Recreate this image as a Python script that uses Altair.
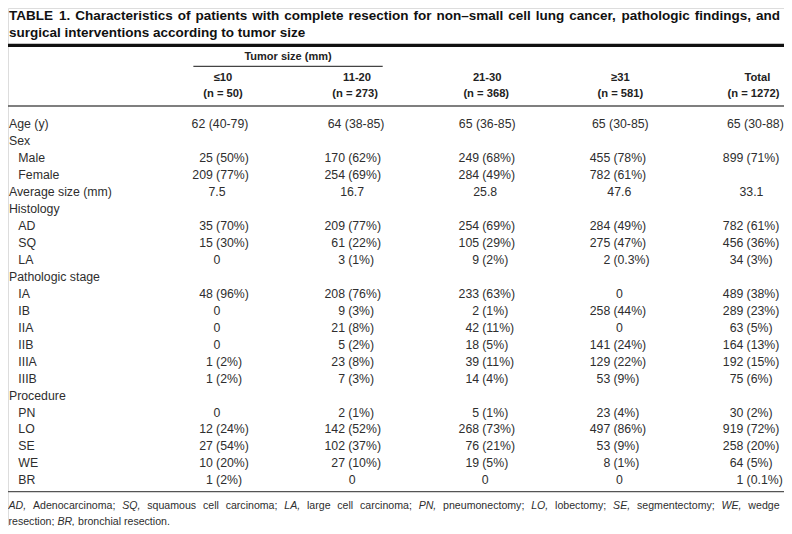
import altair as alt
import pandas as pd

# ---------------- data ----------------
title_words = ["TABLE", "1.", "Characteristics", "of", "patients", "with", "complete", "resection",
               "for", "non\u2013small", "cell", "lung", "cancer,", "pathologic", "findings,", "and"]
title_line2 = "surgical interventions according to tumor size"
group_header = "Tumor size (mm)"
col_headers = ["\u226410", "11-20", "21-30", "\u226531", "Total"]
col_ns = ["(n = 50)", "(n = 273)", "(n = 368)", "(n = 581)", "(n = 1272)"]

row_labels = ["Age (y)", "Sex", "Male", "Female", "Average size (mm)", "Histology",
              "AD", "SQ", "LA", "Pathologic stage", "IA", "IB", "IIA", "IIB", "IIIA",
              "IIIB", "Procedure", "PN", "LO", "SE", "WE", "BR"]
row_indent = [0, 0, 1, 1, 0, 0, 1, 1, 1, 0, 1, 1, 1, 1, 1, 1, 0, 1, 1, 1, 1, 1]

col_le10 = ["62 (40-79)", "", "25 (50%)", "209 (77%)", "7.5", "", "35 (70%)", "15 (30%)", "0", "",
            "48 (96%)", "0", "0", "0", "1 (2%)", "1 (2%)", "", "0", "12 (24%)", "27 (54%)", "10 (20%)", "1 (2%)"]
col_11_20 = ["64 (38-85)", "", "170 (62%)", "254 (69%)", "16.7", "", "209 (77%)", "61 (22%)", "3 (1%)", "",
             "208 (76%)", "9 (3%)", "21 (8%)", "5 (2%)", "23 (8%)", "7 (3%)", "", "2 (1%)", "142 (52%)", "102 (37%)", "27 (10%)", "0"]
col_21_30 = ["65 (36-85)", "", "249 (68%)", "284 (49%)", "25.8", "", "254 (69%)", "105 (29%)", "9 (2%)", "",
             "233 (63%)", "2 (1%)", "42 (11%)", "18 (5%)", "39 (11%)", "14 (4%)", "", "5 (1%)", "268 (73%)", "76 (21%)", "19 (5%)", "0"]
col_ge31 = ["65 (30-85)", "", "455 (78%)", "782 (61%)", "47.6", "", "284 (49%)", "275 (47%)", "2 (0.3%)", "",
            "0", "258 (44%)", "0", "141 (24%)", "129 (22%)", "53 (9%)", "", "23 (4%)", "497 (86%)", "53 (9%)", "8 (1%)", "0"]
col_total = ["65 (30-88)", "", "899 (71%)", "", "33.1", "", "782 (61%)", "456 (36%)", "34 (3%)", "",
             "489 (38%)", "289 (23%)", "63 (5%)", "164 (13%)", "192 (15%)", "75 (6%)", "", "30 (2%)", "919 (72%)", "258 (20%)", "64 (5%)", "1 (0.1%)"]

footer_words1 = [("AD,", 1), ("Adenocarcinoma;", 0), ("SQ,", 1), ("squamous", 0), ("cell", 0), ("carcinoma;", 0),
                 ("LA,", 1), ("large", 0), ("cell", 0), ("carcinoma;", 0), ("PN,", 1), ("pneumonectomy;", 0),
                 ("LO,", 1), ("lobectomy;", 0), ("SE,", 1), ("segmentectomy;", 0), ("WE,", 1), ("wedge", 0)]
footer_words2 = [("resection;", 0), ("BR,", 1), ("bronchial", 0), ("resection.", 0)]

# ---------------- layout (reference pixel space) ----------------
X0, X1, Y0, Y1 = 2, 789, 4, 530
W, H = 776, 518
K = W / (X1 - X0)          # chart px per reference px
FONT = "Liberation Sans"
xs = alt.Scale(domain=[X0, X1], range=[0, W], zero=False, nice=False)
ys = alt.Scale(domain=[Y0, Y1], range=[0, H], zero=False, nice=False)

TITLE_SIZE, HEAD_SIZE, BODY, FOOT = 13.5, 11.2, 12.3, 10.6
COLOR = "#2e2e2e"

# Arial/Liberation advance widths (1/1000 em) for justifying the two full-width lines
REG = dict(zip(" ,;.\u2013", [278, 278, 278, 278, 556]))
REG.update(dict(zip("ABDELNOPQRSW", [667, 667, 722, 667, 556, 722, 778, 667, 778, 722, 667, 944])))
REG.update(dict(zip("abcdefghiklmnopqrstuvwyz",
                    [556, 556, 500, 556, 556, 278, 556, 556, 222, 500, 222, 833, 556, 556, 556, 556, 333, 500, 278, 556, 500, 722, 500, 500])))
BOLD = dict(zip(" ,;.\u20131", [278, 278, 333, 278, 556, 556]))
BOLD.update(dict(zip("ABCELT", [722, 722, 722, 667, 611, 611])))
BOLD.update(dict(zip("abcdefghiklmnoprstuwy",
                     [556, 611, 556, 611, 556, 333, 611, 611, 278, 556, 278, 889, 611, 611, 611, 389, 556, 333, 611, 778, 556])))


def width(s, table, size):
    return sum(table.get(ch, 556) for ch in s) / 1000 * size


def justify(words, table, size, x_start, x_end):
    natural = sum(width(w, table, size) for w in words)
    gap = ((x_end - x_start) * K - natural) / (len(words) - 1)
    out, pos = [], 0.0
    for w in words:
        out.append(x_start + pos / K)
        pos += width(w, table, size) + gap
    return out


def natural_positions(words, table, size, x_start):
    out, pos = [], 0.0
    sp = width(" ", table, size)
    for w in words:
        out.append(x_start + pos / K)
        pos += width(w, table, size) + sp
    return out


ROW_Y0, ROW_DY = 121.5, 17.25
paren_x = [213, 347, 483, 616, 751]
plain_x = [214, 351, 486, 622, 756]
age_x = [217, 355, 488, 623, 760]
head_x = [220, 356, 488, 623, 762]
nline_x = [220, 354, 487, 623, 758]

columns = [col_le10, col_11_20, col_21_30, col_ge31, col_total]

left_parts, right_parts, whole = [], [], []
for ci, col in enumerate(columns):
    for ri, t in enumerate(col):
        if not t:
            continue
        y = ROW_Y0 + ROW_DY * ri
        if ri == 0:
            whole.append({"x": age_x[ci], "y": y, "t": t})
        elif "(" in t:
            a, b = t.split(" ", 1)
            left_parts.append({"x": paren_x[ci] - 3.2, "y": y, "t": a})
            right_parts.append({"x": paren_x[ci], "y": y, "t": b})
        else:
            whole.append({"x": plain_x[ci], "y": y, "t": t})

labels_df = pd.DataFrame({
    "x": [3 + 9.5 * ind for ind in row_indent],
    "y": [ROW_Y0 + ROW_DY * i for i in range(len(row_labels))],
    "t": row_labels,
})

tx = justify(title_words, BOLD, TITLE_SIZE, 3, 785)
title_df = pd.DataFrame(
    [{"x": x, "y": 12.5, "t": w} for x, w in zip(tx, title_words)]
    + [{"x": 3, "y": 29.5, "t": title_line2}]
)
group_df = pd.DataFrame([{"x": 286, "y": 54, "t": group_header}])
header_df = pd.DataFrame(
    [{"x": head_x[i], "y": 75.5, "t": col_headers[i]} for i in range(5)]
    + [{"x": nline_x[i], "y": 91, "t": col_ns[i]} for i in range(5)]
)

foot_norm, foot_ital = [], []
fx1 = justify([w for w, _ in footer_words1], REG, FOOT, 2.5, 784.5)
for (seg, it), fx in zip(footer_words1, fx1):
    (foot_ital if it else foot_norm).append({"x": fx, "y": 510, "t": seg})
fx2 = natural_positions([w for w, _ in footer_words2], REG, FOOT, 2.5)
for (seg, it), fx in zip(footer_words2, fx2):
    (foot_ital if it else foot_norm).append({"x": fx, "y": 526, "t": seg})

rules_df = pd.DataFrame([
    {"x": 2, "x2": 789, "y": 42, "w": 3.2, "c": "#111"},
    {"x": 190, "x2": 382, "y": 63.3, "w": 1.3, "c": "#444"},
    {"x": 2, "x2": 789, "y": 103.5, "w": 1.3, "c": "#555"},
    {"x": 2, "x2": 789, "y": 495, "w": 1.3, "c": "#555"},
])


def enc(ch):
    return ch.encode(
        x=alt.X("x:Q", scale=xs, axis=None),
        y=alt.Y("y:Q", scale=ys, axis=None),
        text="t:N",
    )


rules = alt.Chart(rules_df).mark_rule().encode(
    x=alt.X("x:Q", scale=xs, axis=None),
    x2="x2:Q",
    y=alt.Y("y:Q", scale=ys, axis=None),
    strokeWidth=alt.StrokeWidth("w:Q", scale=None),
    color=alt.Color("c:N", scale=None),
)

title = enc(alt.Chart(title_df).mark_text(align="left", baseline="middle", font=FONT,
                                          fontWeight="bold", fontSize=TITLE_SIZE, color="#111"))
group = enc(alt.Chart(group_df).mark_text(align="center", baseline="middle", font=FONT,
                                          fontWeight="bold", fontSize=11, color="#222"))
header = enc(alt.Chart(header_df).mark_text(align="center", baseline="middle", font=FONT,
                                            fontWeight="bold", fontSize=HEAD_SIZE, color="#222"))
labels = enc(alt.Chart(labels_df).mark_text(align="left", baseline="middle", font=FONT,
                                            fontSize=BODY, color=COLOR))
cells_l = enc(alt.Chart(pd.DataFrame(left_parts)).mark_text(align="right", baseline="middle", font=FONT,
                                                            fontSize=BODY, color=COLOR))
cells_r = enc(alt.Chart(pd.DataFrame(right_parts)).mark_text(align="left", baseline="middle", font=FONT,
                                                             fontSize=BODY, color=COLOR))
cells_w = enc(alt.Chart(pd.DataFrame(whole)).mark_text(align="center", baseline="middle", font=FONT,
                                                       fontSize=BODY, color=COLOR))
foot_n = enc(alt.Chart(pd.DataFrame(foot_norm)).mark_text(align="left", baseline="middle", font=FONT,
                                                          fontSize=FOOT, color=COLOR))
foot_i = enc(alt.Chart(pd.DataFrame(foot_ital)).mark_text(align="left", baseline="middle", font=FONT,
                                                          fontSize=FOOT, fontStyle="italic", color=COLOR))

chart = alt.layer(rules, title, group, header, labels, cells_l, cells_r, cells_w, foot_n, foot_i).properties(
    width=W, height=H, autosize=alt.AutoSizeParams(type="none"), padding=0,
).configure_view(stroke=None).configure(background="white")

chart.save("out.html", embed_options={"renderer": "svg", "actions": False})
